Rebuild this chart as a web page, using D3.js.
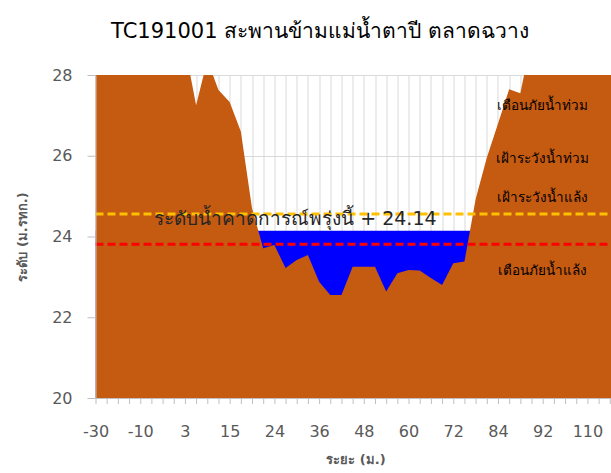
<!DOCTYPE html>
<html>
<head>
<meta charset="utf-8">
<script src="https://cdnjs.cloudflare.com/ajax/libs/d3/7.8.5/d3.min.js"></script>
<style>
  body { margin: 0; background: #fff; }
  svg { display: block; font-family: "DejaVu Sans", "Noto Sans", sans-serif; }
</style>
</head>
<body>
<div class="chart"></div>
<script>
// distance along the section (m.)
var distances = [-30, -25, -20, -15, -10, -7, -3, 0, 3, 6, 9, 12, 15, 18, 20, 22,
  24, 27, 30, 33, 36, 39, 42, 45, 48, 51, 54, 57, 60, 63, 66, 69,
  72, 75, 78, 81, 84, 86, 88, 90, 92, 96, 100, 105, 110, 115, 120, 125];

// ground level (m. MSL)
var groundLevel = [31.2, 30.8, 30.5, 30.1, 29.8, 29.6, 29.3, 29.0, 28.69, 27.25, 28.37, 27.63, 27.33, 26.6, 24.7, 23.71,
  23.79, 23.22, 23.42, 23.54, 22.88, 22.55, 22.55, 23.25, 23.25, 23.25, 22.64, 23.09, 23.17, 23.16, 22.97, 22.80,
  23.34, 23.38, 24.92, 25.95, 26.79, 27.65, 27.55, 28.9, 29.5, 30.0, 30.4, 30.8, 31.0, 31.3, 31.5, 31.7];

var waterLevel = 24.14;
var forecastLevel = 24.56;
var dryLevel = 23.81;

var yTicks = [20, 22, 24, 26, 28];

var levelNames = ["เตือนภัยน้ำท่วม", "เฝ้าระวังน้ำท่วม", "เฝ้าระวังน้ำแล้ง", "เตือนภัยน้ำแล้ง"];
var levelLabelValues = [27.26, 25.95, 24.98, 23.17];

var chartTitle = "TC191001 สะพานข้ามแม่น้ำตาปี ตลาดฉวาง";
var forecastText = "ระดับน้ำคาดการณ์พรุ่งนี้ + 24.14";

//set up chart
var svgWidth = 611;
var svgHeight = 473;
var margin = {top: 75, left: 95.5, bottom: 75};
var step = 11.18;
var width = step * (distances.length - 1);
var height = svgHeight - margin.top - margin.bottom;

var data = distances.map(function(d, i) {
  return {x: String(d), ground: groundLevel[i]};
});

var svg = d3.select(".chart")
  .append("svg")
  .attr("width", svgWidth)
  .attr("height", svgHeight);

var chart = svg.append("g")
  .attr("transform", "translate(" + margin.left + "," + margin.top + ")");

var xScale = d3.scalePoint()
  .domain(data.map(function(d) { return d.x; }))
  .range([0, width]);

var yScale = d3.scaleLinear()
  .domain([20, 28])
  .range([height, 0]);

chart.append("clipPath")
  .attr("id", "plotclip")
  .append("rect")
  .attr("width", width)
  .attr("height", height);

// grid lines
chart.append("g")
  .selectAll("line")
  .data(data)
  .enter()
  .append("line")
  .attr("x1", function(d) { return Math.round(xScale(d.x)) + 0.5; })
  .attr("x2", function(d) { return Math.round(xScale(d.x)) + 0.5; })
  .attr("y1", 0)
  .attr("y2", height)
  .attr("stroke", "#d9d9d9");

chart.append("g")
  .selectAll("line")
  .data(yTicks)
  .enter()
  .append("line")
  .attr("x1", 0)
  .attr("x2", width)
  .attr("y1", function(d) { return Math.round(yScale(d)) + 0.5; })
  .attr("y2", function(d) { return Math.round(yScale(d)) + 0.5; })
  .attr("stroke", "#d9d9d9");

var plot = chart.append("g").attr("clip-path", "url(#plotclip)");

// water
plot.append("path")
  .datum(data)
  .attr("fill", "#0000ff")
  .attr("d", d3.area()
    .x(function(d) { return xScale(d.x); })
    .y0(height)
    .y1(function() { return yScale(waterLevel); }));

// ground
plot.append("path")
  .datum(data)
  .attr("fill", "#c55a11")
  .attr("d", d3.area()
    .x(function(d) { return xScale(d.x); })
    .y0(height)
    .y1(function(d) { return yScale(d.ground); }));

// level lines
chart.append("line")
  .attr("x1", 0).attr("x2", width)
  .attr("y1", yScale(forecastLevel)).attr("y2", yScale(forecastLevel))
  .attr("stroke", "#ffc000")
  .attr("stroke-width", 3)
  .attr("stroke-dasharray", "8,4");

chart.append("line")
  .attr("x1", 0).attr("x2", width)
  .attr("y1", yScale(dryLevel)).attr("y2", yScale(dryLevel))
  .attr("stroke", "#ff0000")
  .attr("stroke-width", 3)
  .attr("stroke-dasharray", "8,4");

// axes
var bottomAxis = d3.axisBottom(xScale)
  .tickSizeInner(6)
  .tickSizeOuter(0)
  .tickPadding(22)
  .tickFormat(function(d, i) { return i % 4 === 0 ? d : ""; });

var leftAxis = d3.axisLeft(yScale)
  .tickValues(yTicks)
  .tickSizeInner(8)
  .tickSizeOuter(0)
  .tickPadding(15);

var xAxisG = chart.append("g")
  .attr("transform", "translate(0," + height + ")")
  .call(bottomAxis);

var yAxisG = chart.append("g").call(leftAxis);

[xAxisG, yAxisG].forEach(function(g) {
  g.select(".domain").attr("stroke", "#bfbfbf");
  g.selectAll(".tick line").attr("stroke", "#bfbfbf");
  g.selectAll(".tick text")
    .attr("fill", "#595959")
    .attr("font-size", 16)
    .style("font-family", "DejaVu Sans");
});

// labels
chart.append("text")
  .attr("x", xScale("24") + 21)
  .attr("y", yScale(waterLevel) - 6)
  .attr("text-anchor", "middle")
  .style("font-size", "19px")
  .attr("fill", "#262626")
  .text(forecastText);

chart.selectAll("text.level")
  .data(levelNames)
  .enter()
  .append("text")
  .attr("class", "level")
  .attr("x", xScale("92"))
  .attr("y", function(d, i) { return yScale(levelLabelValues[i]) + 5; })
  .attr("text-anchor", "middle")
  .style("font-size", "13.5px")
  .attr("fill", "#000")
  .text(function(d) { return d; });

svg.append("text")
  .attr("x", 320)
  .attr("y", 38)
  .attr("text-anchor", "middle")
  .style("font-size", "21px")
  .attr("fill", "#000")
  .text(chartTitle);

svg.append("text")
  .attr("transform", "rotate(-90)")
  .attr("x", -237)
  .attr("y", 27)
  .attr("text-anchor", "middle")
  .style("font-size", "13px")
  .style("font-weight", "bold")
  .attr("fill", "#595959")
  .text("ระดับ (ม.รทก.)");

svg.append("text")
  .attr("x", 356)
  .attr("y", 464)
  .attr("text-anchor", "middle")
  .style("font-size", "13px")
  .style("font-weight", "bold")
  .attr("fill", "#595959")
  .text("ระยะ (ม.)");
</script>
</body>
</html>
